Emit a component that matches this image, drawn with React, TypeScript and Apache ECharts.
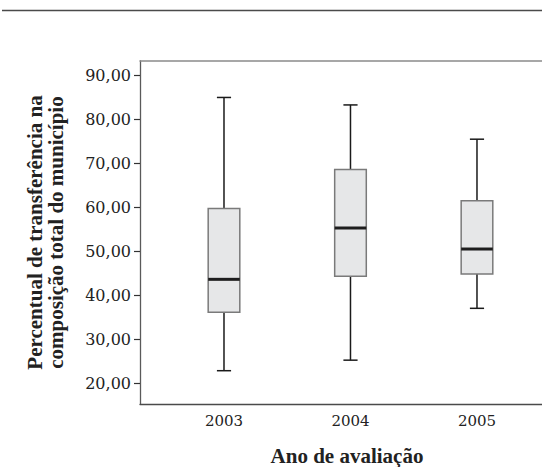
import React, { useEffect, useRef } from "react";
import * as echarts from "echarts";

const years = ["2003", "2004", "2005"];
// [min, Q1, median, Q3, max]
const whiskerLow = [22.8, 25.2, 37.0];
const q1 = [36.1, 44.3, 44.8];
const medians = [43.6, 55.3, 50.5];
const q3 = [59.7, 68.6, 61.5];
const whiskerHigh = [85.0, 83.3, 75.5];
const yTicks = [20, 30, 40, 50, 60, 70, 80, 90];

const SERIF = "Liberation Serif, Times New Roman, serif";
const LABEL_FONT = "DejaVu Serif";

export default function App() {
  const ref = useRef<HTMLDivElement>(null);
  useEffect(() => {
    document.body.style.margin = "0";
    const chart = echarts.init(ref.current!, null, { renderer: "svg" });
    const data = years.map((_, i) => [i, whiskerLow[i], q1[i], medians[i], q3[i], whiskerHigh[i]]);
    chart.setOption({
      animation: false,
      backgroundColor: "#ffffff",
      textStyle: { fontFamily: SERIF },
      grid: { left: 140, right: 0, top: 61, bottom: 63, containLabel: false, outerBoundsMode: "none" },
      xAxis: [
        {
          type: "value",
          min: -0.664,
          max: 2.514,
          position: "bottom",
          splitLine: { show: false },
          axisLine: { show: true, onZero: false, lineStyle: { color: "#4a4a4a", width: 1.3 } },
          axisTick: { show: false },
          axisLabel: {
            fontFamily: LABEL_FONT,
            fontSize: 15,
            color: "#222",
            margin: 9,
            customValues: [0, 1, 2],
            formatter: (v: number) => years[Math.round(v)] ?? "",
          },
          name: "Ano de avaliação",
          nameLocation: "middle",
          nameGap: 41,
          nameTextStyle: {
            fontFamily: SERIF,
            fontWeight: "bold",
            fontSize: 21,
            color: "#222",
            padding: [0, 0, 0, 12],
          },
        },
        {
          type: "value",
          min: -0.664,
          max: 2.514,
          position: "top",
          splitLine: { show: false },
          axisLine: { show: true, onZero: false, lineStyle: { color: "#8a8a8a", width: 1.5 } },
          axisTick: { show: false },
          axisLabel: { show: false },
        },
      ],
      yAxis: {
        type: "value",
        min: 15.22,
        max: 93.3,
        splitLine: { show: false },
        axisLine: { show: true, onZero: false, lineStyle: { color: "#5a5a5a", width: 1.3 } },
        axisTick: { show: true, length: 6, customValues: yTicks, lineStyle: { color: "#333", width: 1.2 } },
        axisLabel: {
          fontFamily: LABEL_FONT,
          fontSize: 16,
          color: "#222",
          margin: 9,
          customValues: yTicks,
          formatter: (v: number) => v.toFixed(2).replace(".", ","),
        },
        name: "Percentual de transferência na\ncomposição total do município",
        nameLocation: "middle",
        nameGap: 74,
        nameTextStyle: {
          fontFamily: SERIF,
          fontWeight: "bold",
          fontSize: 21,
          lineHeight: 21,
          color: "#222",
        },
      },
      graphic: [
        {
          type: "line",
          shape: { x1: 2, y1: 10.5, x2: 542, y2: 10.5 },
          style: { stroke: "#4a4a4a", lineWidth: 1.4 },
        },
      ],
      series: [
        {
          type: "custom",
          xAxisIndex: 0,
          encode: { x: 0, y: [1, 2, 3, 4, 5] },
          data,
          renderItem: (params: any, api: any) => {
            const x = api.value(0);
            const pLow = api.coord([x, api.value(1)]);
            const pQ1 = api.coord([x, api.value(2)]);
            const pMed = api.coord([x, api.value(3)]);
            const pQ3 = api.coord([x, api.value(4)]);
            const pHigh = api.coord([x, api.value(5)]);
            const boxW = api.size([0.25, 0])[0];
            const capW = api.size([0.112, 0])[0];
            const cx = pMed[0];
            const whisk = { stroke: "#1a1a1a", lineWidth: 1.5 };
            return {
              type: "group",
              children: [
                { type: "line", shape: { x1: cx, y1: pHigh[1], x2: cx, y2: pQ3[1] }, style: whisk },
                { type: "line", shape: { x1: cx, y1: pQ1[1], x2: cx, y2: pLow[1] }, style: whisk },
                { type: "line", shape: { x1: cx - capW / 2, y1: pHigh[1], x2: cx + capW / 2, y2: pHigh[1] }, style: whisk },
                { type: "line", shape: { x1: cx - capW / 2, y1: pLow[1], x2: cx + capW / 2, y2: pLow[1] }, style: whisk },
                {
                  type: "rect",
                  shape: { x: cx - boxW / 2, y: pQ3[1], width: boxW, height: pQ1[1] - pQ3[1] },
                  style: { fill: "#e6e7e8", stroke: "#7a7a7a", lineWidth: 1.5 },
                },
                {
                  type: "line",
                  shape: { x1: cx - boxW / 2, y1: pMed[1], x2: cx + boxW / 2, y2: pMed[1] },
                  style: { stroke: "#1e1e1e", lineWidth: 3 },
                },
              ],
            };
          },
        },
      ],
    });
    return () => chart.dispose();
  }, []);
  return <div ref={ref} style={{ width: 542, height: 467 }} />;
}
